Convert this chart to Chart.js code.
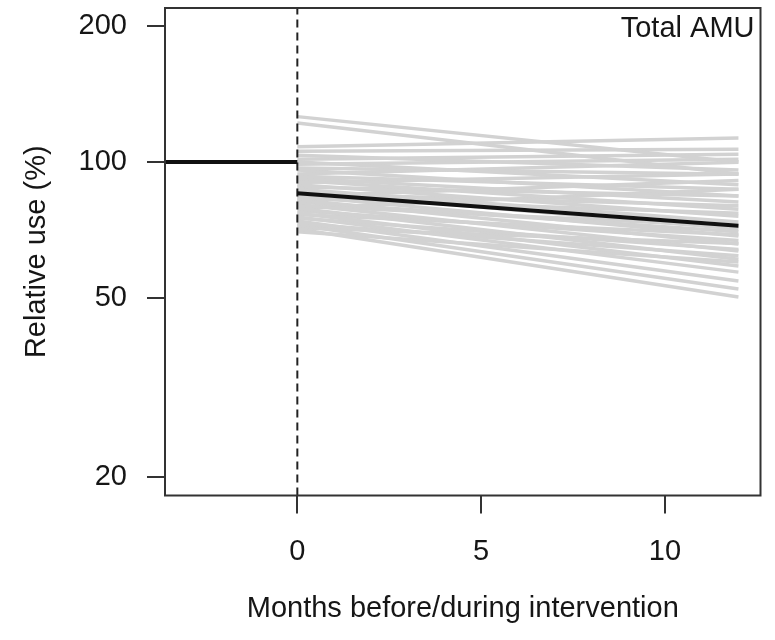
<!DOCTYPE html>
<html>
<head>
<meta charset="utf-8">
<script src="https://cdn.jsdelivr.net/npm/chart.js@4"></script>
<style>
  html, body { margin: 0; padding: 0; background: #ffffff; }
  #wrap { width: 775px; height: 640px; position: relative; }
</style>
</head>
<body>
<div id="wrap"><canvas id="c" width="775" height="640"></canvas></div>
<script>
// ---- data ----
const interventionMonths = [0, 12];
const preMonths = [-3.6, 0];
const preLevel = [100, 100];
const meanLevel = [85.2, 72.2];
// individual units: relative use at month 0 and month 12
const unitStart = [126, 122, 108, 105.6, 103.5, 101.4, 100, 98.8, 97, 96, 94, 93, 92, 91, 90, 89, 88, 87, 86, 85,
                   84, 83, 82.5, 81.5, 80.5, 80, 79, 78, 77, 76.5, 75.5, 75, 74, 73, 72.5, 71.5, 71, 70, 84, 79];
const unitEnd   = [100, 94, 113, 106.7, 96, 104, 89, 101.4, 93.9, 84, 99.8, 87, 81.5, 78.6, 94, 75.8, 84, 73.6, 71, 80,
                   68.5, 77, 65.8, 70, 63.5, 72, 60.9, 67, 58.8, 69, 57, 64, 54.5, 62, 52.3, 66, 50.2, 60, 91, 87];
const xTickValues = [0, 5, 10];
const yTickValues = [20, 50, 100, 200];
const xLimits = [-3.6, 12.6];
const yLimits = [18.24, 219.3];
const panelLabel = 'Total AMU';
const xTitle = 'Months before/during intervention';
const yTitle = 'Relative use (%)';

const FONT = "'Liberation Sans', Arial, Helvetica, sans-serif";
const FS = 29;
const TXT = '#161616';

const datasets = [];
datasets.push({
  data: preMonths.map((m, i) => ({x: m, y: preLevel[i]})),
  borderColor: '#111', borderWidth: 4, pointRadius: 0, order: 0
});
datasets.push({
  data: interventionMonths.map((m, i) => ({x: m, y: meanLevel[i]})),
  borderColor: '#111', borderWidth: 4, pointRadius: 0, order: 0
});
datasets.push({
  data: [{x: 0, y: yLimits[0]}, {x: 0, y: yLimits[1]}],
  borderColor: '#222', borderWidth: 2, borderDash: [8, 5], pointRadius: 0, order: 1
});
unitStart.forEach((s, i) => {
  datasets.push({
    data: [{x: interventionMonths[0], y: s}, {x: interventionMonths[1], y: unitEnd[i]}],
    borderColor: '#d2d2d2', borderWidth: 3.5, pointRadius: 0, order: 2
  });
});

const boxPlugin = {
  id: 'box',
  afterDraw(chart) {
    const {ctx, chartArea: a} = chart;
    ctx.save();
    ctx.strokeStyle = '#333';
    ctx.lineWidth = 2;
    ctx.strokeRect(a.left, a.top, a.right - a.left, a.bottom - a.top);
    ctx.fillStyle = TXT;
    ctx.font = FS + 'px ' + FONT;
    ctx.textAlign = 'right';
    ctx.textBaseline = 'alphabetic';
    ctx.fillText(panelLabel, a.right - 6, a.top + 29);
    ctx.restore();
  }
};

new Chart(document.getElementById('c'), {
  type: 'line',
  data: { datasets },
  plugins: [boxPlugin],
  options: {
    responsive: false,
    animation: false,
    layout: { padding: { left: 0, right: 14.5, top: 8, bottom: 0 } },
    plugins: { legend: { display: false }, tooltip: { enabled: false } },
    scales: {
      x: {
        type: 'linear',
        min: xLimits[0], max: xLimits[1],
        afterBuildTicks(s) { s.ticks = xTickValues.map(v => ({value: v})); },
        afterFit(s) { s.height = 144.5; s.paddingLeft = 0; s.paddingRight = 0; },
        border: { display: false },
        grid: { drawOnChartArea: false, drawTicks: true, tickLength: 18, color: '#333', lineWidth: 2 },
        ticks: { font: { family: FONT, size: FS }, color: TXT, padding: 21, maxRotation: 0 },
        title: { display: true, text: xTitle, font: { family: FONT, size: FS }, color: TXT, padding: { top: 0, bottom: 14 } }
      },
      y: {
        type: 'logarithmic',
        min: yLimits[0], max: yLimits[1],
        afterBuildTicks(s) { s.ticks = yTickValues.map(v => ({value: v})); },
        afterFit(s) { s.width = 165; s.paddingTop = 0; s.paddingBottom = 0; },
        border: { display: false },
        grid: { drawOnChartArea: false, drawTicks: true, tickLength: 18, color: '#333', lineWidth: 2 },
        ticks: { font: { family: FONT, size: FS }, color: TXT, padding: 20, callback: v => String(v) },
        title: { display: true, text: yTitle, font: { family: FONT, size: FS }, color: TXT, padding: { top: 20, bottom: 0 } }
      }
    }
  }
});
</script>
</body>
</html>
